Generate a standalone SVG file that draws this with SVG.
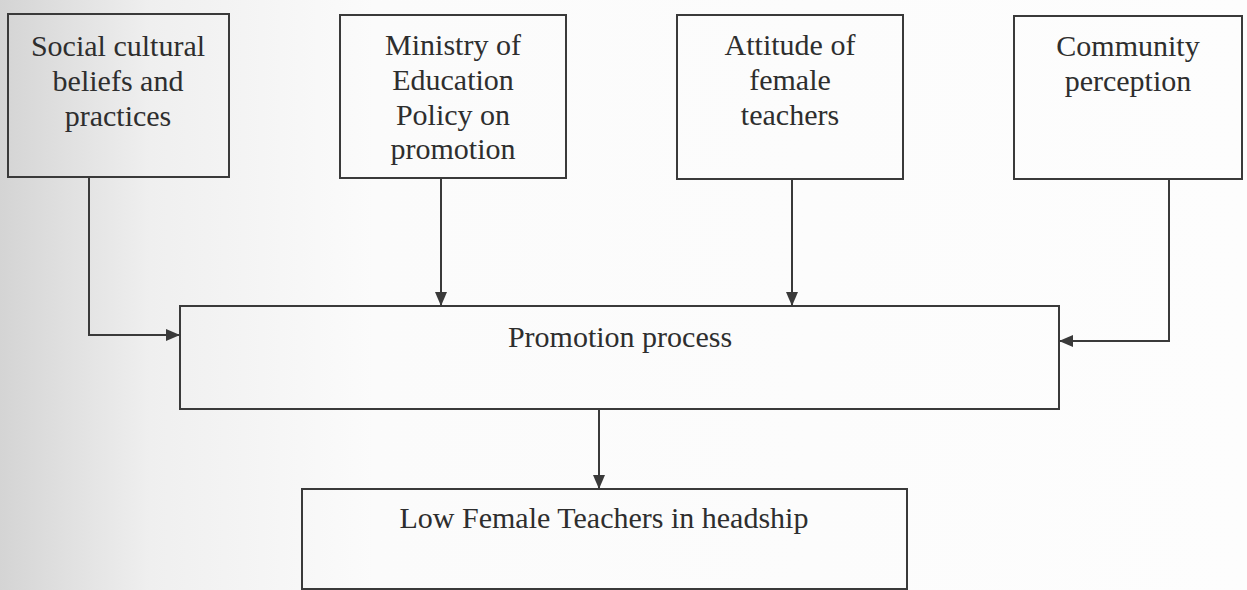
<svg xmlns="http://www.w3.org/2000/svg" width="1247" height="590" viewBox="0 0 1247 590">
  <style>
    .box { fill: none; stroke: #3a3a3a; stroke-width: 2; }
    .lbl { font-family: "Liberation Serif", "Times New Roman", serif; font-size: 30px; fill: #2e2e2e; text-anchor: middle; }
    .conn { fill: none; stroke: #3a3a3a; stroke-width: 2; }
  </style>
  <defs>
    <linearGradient id="bg" x1="0" y1="0" x2="1" y2="0">
      <stop offset="0" stop-color="#d4d4d4"/>
      <stop offset="0.12" stop-color="#efefef"/>
      <stop offset="0.3" stop-color="#fbfbfb"/>
      <stop offset="1" stop-color="#fdfdfd"/>
    </linearGradient>
    <marker id="arr" markerUnits="userSpaceOnUse" markerWidth="14" markerHeight="12" refX="14" refY="6" orient="auto">
      <path d="M0,0 L14,6 L0,12 Z" fill="#3a3a3a"/>
    </marker>
  </defs>
  <rect x="0" y="0" width="1247" height="590" fill="url(#bg)"/>

  <g id="social">
    <rect class="box" x="8" y="14" width="221" height="163"/>
    <text class="lbl" x="118" y="56">Social cultural</text>
    <text class="lbl" x="118" y="91">beliefs and</text>
    <text class="lbl" x="118" y="126">practices</text>
  </g>
  <g id="ministry">
    <rect class="box" x="340" y="15" width="226" height="163"/>
    <text class="lbl" x="453" y="55">Ministry of</text>
    <text class="lbl" x="453" y="90">Education</text>
    <text class="lbl" x="453" y="125">Policy on</text>
    <text class="lbl" x="453" y="159">promotion</text>
  </g>
  <g id="attitude">
    <rect class="box" x="677" y="15" width="226" height="164"/>
    <text class="lbl" x="790" y="55">Attitude of</text>
    <text class="lbl" x="790" y="90">female</text>
    <text class="lbl" x="790" y="125">teachers</text>
  </g>
  <g id="community">
    <rect class="box" x="1014" y="16" width="228" height="163"/>
    <text class="lbl" x="1128" y="56">Community</text>
    <text class="lbl" x="1128" y="91">perception</text>
  </g>
  <g id="promotion">
    <rect class="box" x="180" y="306" width="879" height="103"/>
    <text class="lbl" x="620" y="347">Promotion process</text>
  </g>
  <g id="low">
    <rect class="box" x="302" y="489" width="605" height="100"/>
    <text class="lbl" x="604" y="528">Low Female Teachers in headship</text>
  </g>

  <g id="connectors">
    <path class="conn" d="M89,177 V335 H180" marker-end="url(#arr)"/>
    <path class="conn" d="M441,178 V306" marker-end="url(#arr)"/>
    <path class="conn" d="M792,179 V306" marker-end="url(#arr)"/>
    <path class="conn" d="M1169,179 V341 H1059" marker-end="url(#arr)"/>
    <path class="conn" d="M599,409 V489" marker-end="url(#arr)"/>
  </g>
</svg>
